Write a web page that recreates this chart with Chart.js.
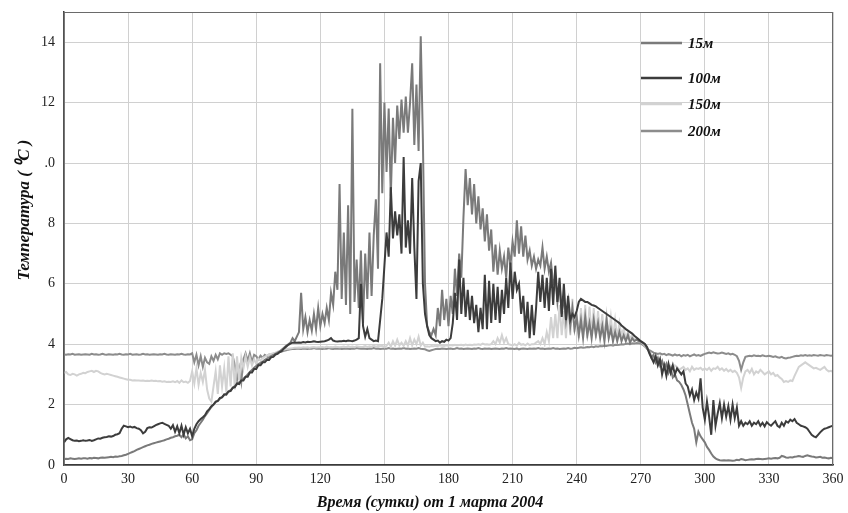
<!DOCTYPE html>
<html>
<head>
<meta charset="utf-8">
<script src="https://cdn.jsdelivr.net/npm/chart.js@4"></script>
<style>
  body { margin: 0; background: #fff; }
</style>
</head>
<body>
<canvas id="tempChart" width="848" height="513"></canvas>
<script>
// сутки от 1 марта 2004, шаг 1 сутки
const days = Array.from({ length: 361 }, (_, i) => i);

const seriesNames = ['15м', '100м', '150м', '200м'];
const xTicks = [0, 30, 60, 90, 120, 150, 180, 210, 240, 270, 300, 330, 360];
const yTicks = [0, 2, 4, 6, 8, 10, 12, 14];
const yTickLabels = ['0', '2', '4', '6', '8', '.0', '12', '14'];

const t15 = [
  0.20,0.21,0.20,0.22,0.21,0.20,0.21,0.22,0.21,0.22,
  0.22,0.21,0.23,0.22,0.24,0.23,0.22,0.24,0.25,0.24,
  0.25,0.26,0.27,0.26,0.28,0.27,0.29,0.30,0.32,0.34,
  0.37,0.40,0.43,0.46,0.50,0.53,0.56,0.59,0.62,0.65,
  0.67,0.70,0.72,0.74,0.76,0.78,0.80,0.82,0.85,0.87,
  0.90,0.92,0.95,0.97,1.00,0.92,1.02,0.88,0.95,0.82,
  0.85,1.05,1.15,1.30,1.40,1.50,1.62,1.72,1.82,1.92,
  2.00,2.08,2.12,2.20,2.25,2.32,2.36,2.42,2.48,2.55,
  2.62,2.68,2.74,2.80,2.86,2.92,3.00,3.08,3.15,3.22,
  3.28,3.34,3.38,3.42,3.48,3.52,3.56,3.60,3.64,3.68,
  3.72,3.76,3.82,3.88,3.95,4.00,4.05,4.20,4.10,4.25,
  4.40,5.70,4.50,4.90,4.40,4.80,4.45,5.00,4.50,5.20,
  4.60,5.00,4.70,5.20,4.80,5.70,5.30,6.40,5.80,9.30,
  5.50,7.70,5.30,8.60,5.00,11.80,5.40,6.80,5.20,7.10,
  4.70,7.00,5.50,7.70,5.60,7.60,8.80,6.50,13.30,9.00,
  12.00,9.70,11.80,8.90,11.50,10.00,11.90,10.80,12.10,11.00,
  12.20,11.00,12.00,13.30,10.60,12.60,10.40,14.20,10.80,6.00,
  4.60,4.40,4.30,4.50,4.30,5.20,4.60,5.80,4.80,5.50,
  4.60,5.60,5.00,6.50,5.60,7.00,6.20,8.20,9.80,8.60,
  9.50,8.30,9.30,8.00,8.90,7.80,8.50,7.40,8.30,7.10,
  7.80,6.40,7.30,6.30,7.10,6.50,6.90,6.20,7.20,6.60,
  7.40,6.90,8.10,7.00,7.90,6.90,7.60,6.80,7.10,6.60,
  6.90,6.50,6.80,6.60,7.20,6.50,6.90,6.40,6.70,6.00,
  6.20,5.40,6.00,5.00,5.60,4.80,5.40,4.60,5.20,4.50,
  4.90,4.30,4.80,4.20,4.90,4.30,4.70,4.20,4.80,4.30,
  4.70,4.20,4.60,4.10,4.80,4.20,4.50,4.10,4.40,4.10,
  4.40,4.10,4.30,4.10,4.30,4.05,4.20,4.10,4.15,4.10,
  4.08,4.05,4.00,3.85,3.75,3.55,3.65,3.40,3.55,3.30,
  3.45,3.20,3.35,3.05,3.20,2.90,3.00,2.80,2.75,2.65,
  2.50,2.30,2.00,1.70,1.40,1.20,0.75,1.10,0.95,0.85,
  0.75,0.60,0.50,0.38,0.28,0.22,0.18,0.16,0.15,0.16,
  0.15,0.16,0.15,0.14,0.15,0.17,0.16,0.20,0.18,0.16,
  0.17,0.18,0.19,0.18,0.20,0.21,0.20,0.19,0.20,0.21,
  0.22,0.21,0.22,0.23,0.22,0.24,0.30,0.28,0.25,0.24,
  0.26,0.25,0.27,0.28,0.30,0.28,0.27,0.30,0.32,0.30,
  0.28,0.27,0.25,0.26,0.27,0.24,0.25,0.23,0.22,0.24,
  0.22
];

const t100 = [
  0.75,0.85,0.90,0.86,0.82,0.80,0.81,0.79,0.80,0.82,
  0.80,0.81,0.83,0.80,0.82,0.85,0.88,0.87,0.90,0.92,
  0.93,0.95,0.94,0.96,1.00,1.02,1.05,1.20,1.30,1.28,
  1.25,1.27,1.24,1.26,1.22,1.20,1.15,1.05,1.10,1.22,
  1.25,1.24,1.28,1.32,1.35,1.38,1.40,1.36,1.33,1.30,
  1.20,1.32,1.10,1.28,1.05,1.30,1.00,1.25,1.05,1.20,
  0.95,1.20,1.35,1.45,1.52,1.58,1.65,1.78,1.85,1.95,
  2.00,2.10,2.12,2.22,2.24,2.34,2.33,2.44,2.45,2.56,
  2.58,2.70,2.68,2.80,2.80,2.92,2.92,3.06,3.06,3.18,
  3.18,3.30,3.30,3.40,3.40,3.48,3.48,3.57,3.58,3.66,
  3.68,3.74,3.78,3.86,3.92,3.98,4.02,4.05,4.06,4.05,
  4.06,4.05,4.07,4.06,4.08,4.07,4.08,4.10,4.08,4.07,
  4.08,4.09,4.10,4.12,4.15,4.20,4.12,4.10,4.09,4.10,
  4.10,4.11,4.10,4.12,4.11,4.10,4.12,4.15,4.20,6.00,
  4.60,4.25,4.50,4.20,4.15,4.10,4.12,4.10,4.80,5.50,
  6.60,7.70,6.90,9.20,7.50,8.40,7.60,8.30,7.00,10.20,
  7.20,8.10,7.00,9.50,7.20,5.50,9.40,10.00,6.00,5.00,
  4.60,4.30,4.20,4.15,4.10,4.12,4.05,4.10,4.08,4.15,
  4.12,4.20,4.70,5.70,4.80,6.80,5.00,6.20,4.90,5.80,
  4.80,5.60,4.70,5.30,4.40,5.20,4.50,6.30,4.50,6.10,
  4.70,6.00,4.80,5.90,4.70,5.80,5.00,6.20,5.20,6.70,
  5.50,6.40,5.80,6.00,5.00,5.60,4.40,5.40,4.20,5.30,
  4.30,5.20,6.40,5.40,6.30,5.20,6.20,5.10,6.50,5.30,
  6.60,5.40,6.20,4.90,6.00,4.80,5.60,4.80,5.00,4.90,
  5.10,5.40,5.50,5.45,5.40,5.40,5.35,5.30,5.28,5.25,
  5.20,5.15,5.10,5.05,5.00,4.95,4.90,4.85,4.80,4.75,
  4.70,4.62,4.56,4.50,4.45,4.40,4.35,4.28,4.22,4.16,
  4.10,4.05,4.00,3.90,3.70,3.55,3.40,3.60,3.30,3.50,
  3.00,3.30,2.95,3.35,3.05,3.30,3.00,3.20,3.10,3.00,
  3.10,2.70,2.60,2.30,2.50,2.15,2.40,2.20,2.87,1.90,
  1.50,2.10,1.60,1.00,2.15,1.30,1.70,2.05,1.55,2.00,
  1.60,1.95,1.50,2.00,1.55,1.90,1.30,1.45,1.30,1.40,
  1.35,1.45,1.30,1.40,1.35,1.45,1.30,1.40,1.28,1.42,
  1.35,1.30,1.38,1.45,1.30,1.25,1.40,1.30,1.45,1.40,
  1.50,1.45,1.52,1.40,1.35,1.30,1.28,1.25,1.20,1.10,
  1.00,0.95,0.92,1.00,1.08,1.15,1.20,1.22,1.25,1.28,
  1.30
];

const t150 = [
  3.05,3.08,3.00,2.98,3.02,3.00,2.96,3.00,3.02,3.05,
  3.04,3.08,3.10,3.12,3.08,3.12,3.10,3.05,3.02,3.00,
  3.02,3.00,2.98,2.96,2.94,2.92,2.90,2.88,2.86,2.84,
  2.82,2.82,2.80,2.81,2.80,2.80,2.79,2.80,2.78,2.79,
  2.78,2.80,2.78,2.79,2.77,2.78,2.76,2.77,2.75,2.76,
  2.75,2.77,2.74,2.78,2.72,2.80,2.74,2.76,2.72,2.78,
  3.10,2.70,3.20,2.65,3.05,2.75,3.15,2.50,2.20,2.10,
  2.60,3.10,2.35,3.30,2.60,3.20,2.40,3.60,2.60,3.70,
  2.50,3.60,2.80,3.55,3.20,3.60,3.25,3.55,3.30,3.50,
  3.35,3.52,3.45,3.55,3.58,3.62,3.65,3.68,3.70,3.72,
  3.75,3.78,3.80,3.82,3.84,3.85,3.86,3.87,3.88,3.88,
  3.89,3.88,3.90,3.89,3.90,3.88,3.90,3.91,3.89,3.90,
  3.90,3.91,3.89,3.92,3.90,3.91,3.90,3.92,3.91,3.90,
  3.91,3.92,3.90,3.93,3.91,3.92,3.90,3.93,3.92,3.91,
  3.92,3.94,3.91,3.93,3.92,3.95,3.92,3.94,3.93,3.95,
  3.90,3.95,4.05,3.92,4.10,3.95,4.15,3.96,4.05,3.94,
  4.10,3.95,4.20,3.96,4.15,4.00,4.25,3.95,4.05,3.92,
  3.93,3.92,3.94,3.93,3.95,3.94,3.96,3.95,3.94,3.96,
  3.95,3.97,3.96,3.98,3.96,3.97,3.98,3.96,3.99,3.97,
  3.98,3.97,3.99,3.98,4.00,3.98,4.02,3.99,4.00,3.98,
  4.00,4.10,4.00,4.20,4.05,4.30,4.05,4.20,4.00,3.98,
  3.96,4.00,3.95,4.05,3.98,4.00,3.96,4.02,3.97,4.00,
  4.00,4.05,4.10,4.00,4.20,4.00,4.40,4.10,4.90,4.20,
  5.00,4.20,5.30,4.30,5.10,4.20,5.40,4.30,5.50,4.40,
  5.00,4.20,5.20,4.30,5.30,4.20,5.25,4.30,5.20,4.20,
  5.10,4.30,5.00,4.20,4.95,4.30,4.90,4.20,4.80,4.20,
  4.70,4.30,4.50,4.20,4.40,4.20,4.30,4.15,4.20,4.12,
  4.08,4.02,3.95,3.85,3.75,3.65,3.55,3.50,3.45,3.40,
  3.35,3.30,3.35,3.25,3.30,3.20,3.30,3.25,3.15,3.20,
  3.25,3.15,3.20,3.10,3.25,3.15,3.20,3.18,3.22,3.15,
  3.20,3.15,3.22,3.12,3.20,3.18,3.25,3.15,3.20,3.12,
  3.18,3.10,3.15,3.08,3.12,3.05,2.90,2.55,2.90,3.10,
  3.15,3.05,3.18,3.00,3.10,3.05,3.15,3.08,3.00,3.05,
  3.10,3.00,3.05,2.95,2.98,2.90,2.85,2.75,2.78,2.75,
  2.80,2.78,2.95,3.10,3.25,3.30,3.35,3.40,3.35,3.30,
  3.25,3.20,3.22,3.18,3.15,3.20,3.25,3.15,3.10,3.12,
  3.08
];

const t200 = [
  3.66,3.65,3.67,3.66,3.68,3.65,3.66,3.67,3.65,3.66,
  3.67,3.66,3.65,3.68,3.66,3.67,3.65,3.66,3.68,3.66,
  3.65,3.67,3.66,3.65,3.67,3.66,3.68,3.66,3.65,3.67,
  3.66,3.68,3.65,3.66,3.67,3.65,3.66,3.68,3.66,3.67,
  3.65,3.66,3.67,3.66,3.65,3.67,3.66,3.68,3.66,3.65,
  3.67,3.66,3.65,3.67,3.66,3.68,3.66,3.65,3.67,3.66,
  3.70,3.40,3.65,3.30,3.60,3.25,3.55,3.40,3.35,3.60,
  3.45,3.65,3.50,3.70,3.65,3.70,3.68,3.70,3.65,3.60,
  3.30,2.80,3.20,2.75,3.50,3.70,3.45,3.70,3.40,3.65,
  3.60,3.50,3.62,3.55,3.65,3.60,3.66,3.65,3.68,3.70,
  3.72,3.74,3.76,3.78,3.80,3.82,3.83,3.84,3.84,3.85,
  3.85,3.84,3.86,3.85,3.84,3.86,3.85,3.87,3.85,3.86,
  3.85,3.84,3.86,3.85,3.87,3.85,3.84,3.86,3.85,3.86,
  3.84,3.85,3.86,3.85,3.84,3.86,3.85,3.87,3.86,3.85,
  3.86,3.85,3.84,3.86,3.85,3.87,3.85,3.86,3.84,3.85,
  3.86,3.85,3.87,3.85,3.86,3.84,3.85,3.86,3.85,3.87,
  3.85,3.86,3.84,3.85,3.86,3.85,3.87,3.85,3.84,3.83,
  3.80,3.78,3.80,3.82,3.84,3.85,3.84,3.86,3.85,3.84,
  3.85,3.86,3.84,3.85,3.87,3.85,3.86,3.84,3.85,3.86,
  3.85,3.84,3.86,3.85,3.87,3.85,3.84,3.86,3.85,3.86,
  3.84,3.85,3.86,3.85,3.84,3.86,3.85,3.87,3.85,3.86,
  3.85,3.84,3.86,3.83,3.85,3.86,3.85,3.84,3.86,3.85,
  3.86,3.85,3.87,3.85,3.86,3.84,3.85,3.86,3.85,3.87,
  3.85,3.86,3.84,3.85,3.86,3.85,3.87,3.85,3.86,3.88,
  3.87,3.88,3.90,3.88,3.89,3.91,3.90,3.92,3.90,3.93,
  3.92,3.94,3.93,3.95,3.94,3.96,3.97,3.95,3.98,3.97,
  3.98,4.00,3.99,4.01,4.02,4.00,4.03,4.02,4.04,4.03,
  4.02,3.98,3.92,3.85,3.80,3.76,3.72,3.70,3.68,3.70,
  3.66,3.68,3.64,3.67,3.65,3.62,3.66,3.63,3.65,3.60,
  3.64,3.62,3.65,3.60,3.63,3.66,3.62,3.64,3.61,3.65,
  3.68,3.70,3.72,3.70,3.73,3.71,3.69,3.70,3.72,3.70,
  3.68,3.70,3.66,3.68,3.65,3.60,3.45,3.15,3.40,3.58,
  3.60,3.62,3.60,3.63,3.61,3.62,3.60,3.63,3.61,3.60,
  3.62,3.60,3.58,3.60,3.57,3.55,3.58,3.54,3.53,3.55,
  3.56,3.58,3.60,3.62,3.61,3.63,3.62,3.64,3.62,3.63,
  3.62,3.64,3.63,3.62,3.64,3.63,3.62,3.64,3.63,3.62,
  3.63
];

const colors = ['#7a7a7a', '#3c3c3c', '#d2d2d2', '#8c8c8c'];
const drawOrder = [1, 0, 2, 3];

const serif = '"Liberation Serif", "Times New Roman", serif';

// подписи осей, рамка и легенда рисуются поверх
const extras = {
    id: 'extras',
    afterDraw(chart) {
        const ctx = chart.ctx;
        const a = chart.chartArea;
        ctx.save();
        ctx.strokeStyle = '#6a6a6a';
        ctx.lineWidth = 1;
        ctx.strokeRect(a.left, a.top + 0.5, a.right - a.left - 0.5, a.bottom - a.top);

        ctx.fillStyle = '#111';
        ctx.font = 'italic bold 16px ' + serif;
        ctx.textAlign = 'center';
        ctx.textBaseline = 'middle';
        ctx.fillText('Время (сутки) от 1 марта 2004', 430, 503);

        ctx.save();
        ctx.translate(25, 210);
        ctx.rotate(-Math.PI / 2);
        ctx.font = 'italic bold 17px ' + serif;
        ctx.fillText('Температура ( \u2070C )', 0, 0);
        ctx.restore();

        const rows = [43, 78, 104, 131];
        ctx.font = 'italic bold 15px ' + serif;
        ctx.textAlign = 'left';
        seriesNames.forEach((name, i) => {
            ctx.strokeStyle = colors[i];
            ctx.lineWidth = 2.5;
            ctx.beginPath();
            ctx.moveTo(641, rows[i]);
            ctx.lineTo(682, rows[i]);
            ctx.stroke();
            ctx.fillStyle = '#111';
            ctx.fillText(name, 688, rows[i] + 1);
        });
        ctx.restore();
    }
};

const ctx = document.getElementById('tempChart').getContext('2d');
new Chart(ctx, {
    type: 'line',
    data: {
        labels: days,
        datasets: [t15, t100, t150, t200].map((values, i) => ({
            label: seriesNames[i],
            data: values,
            borderColor: colors[i],
            borderWidth: 2,
            pointRadius: 0,
            tension: 0,
            fill: false,
            order: drawOrder[i]
        }))
    },
    options: {
        responsive: false,
        animation: false,
        layout: { padding: { left: 4, top: 12, right: 15, bottom: 0 } },
        plugins: {
            legend: { display: false },
            tooltip: { enabled: false }
        },
        scales: {
            x: {
                type: 'linear',
                min: 0,
                max: 360,
                afterFit: s => { s.height = 48; s.paddingLeft = 0; s.paddingRight = 0; },
                afterBuildTicks: s => { s.ticks = xTicks.map(v => ({ value: v })); },
                grid: { color: '#d0d0d0', lineWidth: 1, drawTicks: false },
                border: { color: '#3a3a3a', width: 1.5 },
                ticks: {
                    padding: 6,
                    color: '#222',
                    maxRotation: 0,
                    font: { family: serif, size: 14 },
                    callback: v => String(v)
                }
            },
            y: {
                min: 0,
                max: 15,
                afterFit: s => { s.width = 60; s.paddingTop = 0; s.paddingBottom = 0; },
                afterBuildTicks: s => { s.ticks = yTicks.map(v => ({ value: v })); },
                grid: { color: '#d0d0d0', lineWidth: 1, drawTicks: false },
                border: { color: '#3a3a3a', width: 1.5 },
                ticks: {
                    padding: 9,
                    color: '#222',
                    font: { family: serif, size: 14 },
                    callback: v => yTickLabels[yTicks.indexOf(v)]
                }
            }
        }
    },
    plugins: [extras]
});
</script>
</body>
</html>
